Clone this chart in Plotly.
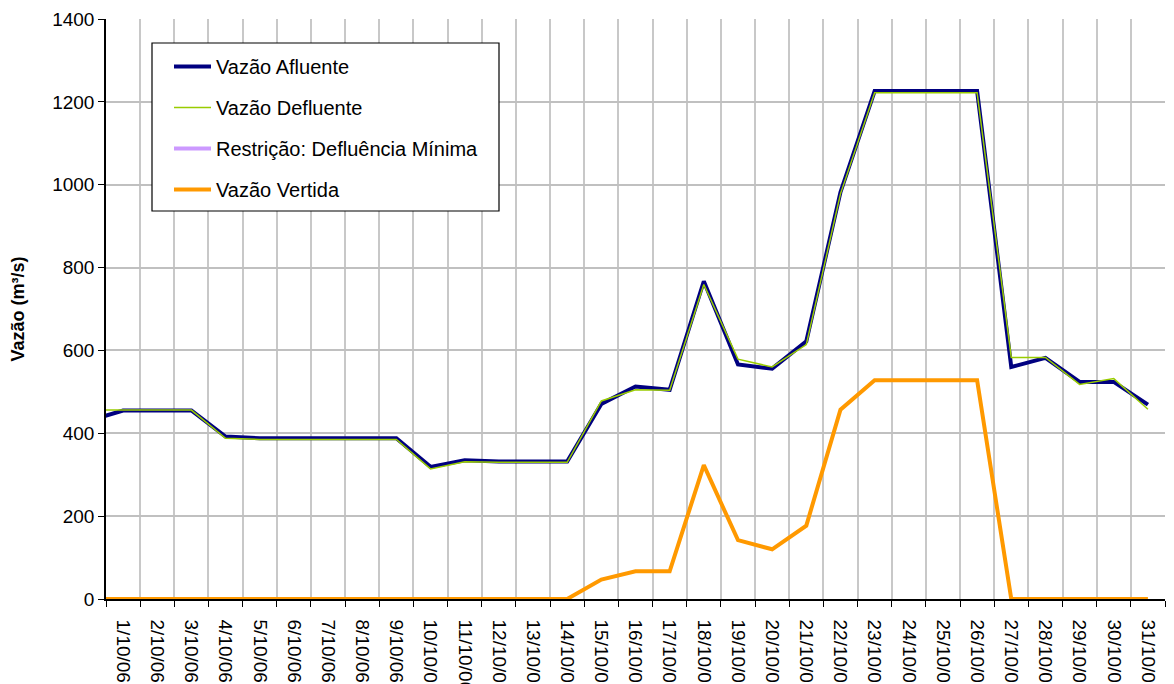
import plotly.graph_objects as go

# ---- data ----
days = list(range(1, 32))
tick_labels = [f"{d}/10/06" for d in days]
prev_day = 0  # 30/09/06 (partially visible at the left edge)

afluente_prev = 430
afluente = [455, 455, 455, 392, 388, 388, 388, 388, 388, 319, 335, 332, 332, 332,
            471, 513, 505, 767, 566, 556, 622, 982, 1226, 1226, 1226, 1226,
            560, 582, 524, 524, 469]

defluente_prev = 456
defluente = [456, 456, 456, 388, 385, 385, 385, 385, 385, 314, 331, 330, 330, 330,
             478, 505, 504, 759, 579, 560, 614, 978, 1222, 1222, 1222, 1222,
             583, 583, 518, 532, 458]

restricao = [None] * 31

vertida_prev = 0
vertida = [0] * 14 + [47, 67, 67, 323, 142, 120, 177, 457, 528, 528, 528, 528] + [0] * 5

FONT = "Liberation Sans, Arial, sans-serif"

fig = go.Figure()
fig.add_trace(go.Scatter(x=[prev_day] + days, y=[afluente_prev] + afluente, mode="lines",
                         name="Vazão Afluente", legendgroup="a",
                         line=dict(color="#000080", width=4)))
fig.add_trace(go.Scatter(x=[prev_day] + days, y=[defluente_prev] + defluente, mode="lines",
                         name="Vazão Defluente", legendgroup="b",
                         line=dict(color="#99cc00", width=1.5)))
fig.add_trace(go.Scatter(x=days, y=restricao, mode="lines",
                         name="Restrição: Defluência Mínima", legendgroup="c",
                         line=dict(color="#cc99ff", width=4)))
fig.add_trace(go.Scatter(x=[prev_day] + days, y=[vertida_prev] + vertida, mode="lines",
                         name="Vazão Vertida", legendgroup="d",
                         line=dict(color="#ff9900", width=4)))

boundaries = [d - 0.5 for d in days] + [days[-1] + 0.5]

# page offset of the default body margin
OFF = 8
W, H = 1174 - OFF, 684
PL, PR, PT, PB = 106, 1165, 19, 599  # plot area in page pixels
L, R, T, B = PL - OFF, W - (PR - OFF), PT - OFF, H - (PB - OFF)
PW, PH = PR - PL, PB - PT


def px(x):
    return (x - PL) / PW


def py(y):
    return 1 - (y - PT) / PH


fig.update_layout(
    width=W, height=H,
    margin=dict(l=L, r=R, t=T, b=B, autoexpand=False),
    paper_bgcolor="white", plot_bgcolor="white",
    font=dict(family=FONT, color="black", size=19),
    showlegend=True,
    legend=dict(x=px(169), y=py(47), xanchor="left", yanchor="top",
                bgcolor="rgba(0,0,0,0)", borderwidth=0,
                font=dict(size=20, family=FONT), tracegroupgap=12,
                itemwidth=37),
    xaxis=dict(range=[0.5, 31.5], tickmode="array", tickvals=days, ticktext=tick_labels,
               tickangle=90, tickfont=dict(size=19, family=FONT), ticks="",
               ticklabelstandoff=15, automargin=False,
               showgrid=False, zeroline=False, showline=True, linecolor="black", linewidth=1.5,
               minor=dict(tickmode="array", tickvals=boundaries, ticks="outside", ticklen=6,
                          tickcolor="black", tickwidth=1, showgrid=True,
                          gridcolor="#c8c8c8", gridwidth=1.5)),
    yaxis=dict(range=[0, 1400], tick0=0, dtick=200, tickfont=dict(size=19, family=FONT),
               ticks="outside", ticklen=6, tickcolor="black", automargin=False,
               showgrid=True, gridcolor="#c0c0c0", gridwidth=1.5, zeroline=False,
               showline=True, linecolor="black", linewidth=1.5,
               title=dict(text="<b>Vazão (m³/s)</b>", font=dict(size=18, family=FONT), standoff=24)),
    shapes=[dict(type="rect", xref="paper", yref="paper",
                 x0=px(152), x1=px(499), y0=py(211), y1=py(43),
                 line=dict(color="black", width=1.2), fillcolor="white", layer="above")],
)

fig.write_html("out.html")
